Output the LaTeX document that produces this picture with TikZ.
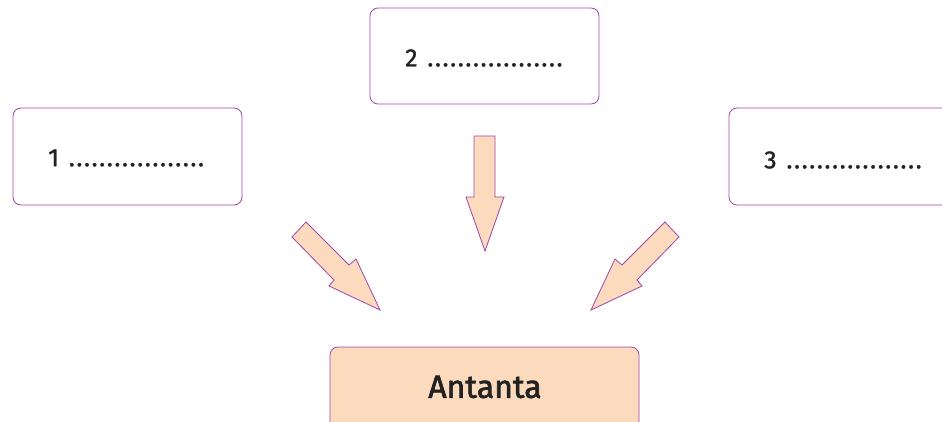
\documentclass[tikz,border=0pt]{standalone}
\usepackage{fontspec}
\setmainfont{Fira Sans}
\newfontfamily\medfont{Fira Sans}[FakeBold=1.2]
\newfontfamily\semifont{Fira Sans}[FakeBold=2]
\definecolor{peach}{HTML}{FCDABD}
\definecolor{edgepurple}{HTML}{A044A8}
\definecolor{txt}{HTML}{222222}
\newcommand\onedot{\hbox to 7.6pt{\hss.\hss}}
\newcommand\dotrow{\onedot\onedot\onedot\onedot\onedot\onedot\onedot\onedot\onedot\onedot\onedot\onedot\onedot\onedot\onedot\onedot\onedot\onedot}
\begin{document}
\begin{tikzpicture}[x=1pt,y=-1pt,
  labelbox/.style={draw=edgepurple,line width=0.8pt,rounded corners=8pt,fill=white},
  boxtext/.style={text=txt,font=\medfont\fontsize{25}{28}\selectfont,inner sep=0pt},
  fatarrow/.style={draw=edgepurple,fill=peach,line width=0.8pt,line join=miter},
  mainbox/.style={draw=edgepurple,line width=0.8pt,rounded corners=8pt,fill=peach}]
\useasboundingbox (0,0) rectangle (942,422);
% boxes
\draw[labelbox] (13,108) rectangle (242,205);
\draw[labelbox] (370,8) rectangle (599,104);
\draw[labelbox] (729,108) rectangle (960,205);
\draw[mainbox] (330,347) rectangle (639,440);
% texts
\node[boxtext,anchor=west] (t1) at (48,158) {1\hspace{9pt}\dotrow};
\node[boxtext,anchor=west] (t2) at (405,58) {2\hspace{9pt}\dotrow};
\node[boxtext,anchor=west] (t3) at (764,160) {3\hspace{9pt}\dotrow};
\node[text=txt,font=\semifont\fontsize{32}{36}\selectfont,inner sep=0pt] (ant) at (485,387) {Antanta};
% arrows
\draw[fatarrow] (474,136) -- (495,136) -- (495,197) -- (504,197) -- (485,251) -- (466,197) -- (474,197) -- cycle;
\draw[fatarrow] (292,237) -- (306,222) -- (349,265) -- (356,259) -- (380,310) -- (329,286) -- (334,280) -- cycle;
\draw[fatarrow] (679,237) -- (665,222) -- (622,265) -- (615,259) -- (591,310) -- (642,286) -- (637,280) -- cycle;
\end{tikzpicture}
\end{document}
